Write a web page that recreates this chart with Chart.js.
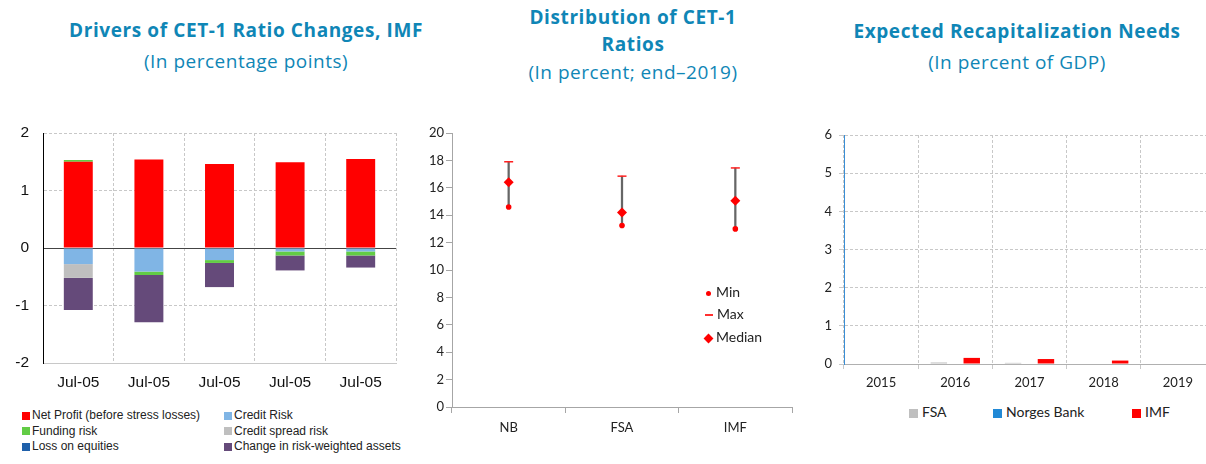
<!DOCTYPE html>
<html>
<head>
<meta charset="utf-8">
<script src="https://cdn.jsdelivr.net/npm/chart.js@4.4.0/dist/chart.umd.min.js"></script>
<style>
  body { margin:0; background:#fff; width:1206px; height:464px; position:relative; overflow:hidden; }
  .box { position:absolute; }
  .ttl { position:absolute; text-align:center; color:#0f86b6; font-family:"Open Sans",sans-serif; white-space:nowrap; }
  .ttl b { font-weight:700; font-size:19px; letter-spacing:0.6px; display:block; line-height:27px; }
  .ttl span { font-weight:400; font-size:19px; letter-spacing:0.5px; display:block; line-height:29px; }
  .ttl.gap span { margin-top:3px; }
  .leg { position:absolute; font-size:12px; color:#222; white-space:nowrap; }
  .leg i { display:inline-block; vertical-align:middle; }
</style>
</head>
<body>

<div class="ttl gap" style="left:46px;width:400px;top:17px;"><b>Drivers of CET-1 Ratio Changes, IMF</b><span>(In percentage points)</span></div>
<div class="ttl" style="left:473px;width:320px;top:4px;"><b>Distribution of CET-1</b><b>Ratios</b><span>(In percent; end–2019)</span></div>
<div class="ttl gap" style="left:837px;width:360px;top:18px;"><b>Expected Recapitalization Needs</b><span>(In percent of GDP)</span></div>

<div class="box" style="left:0;top:120px;width:410px;height:280px;"><canvas id="drivers" width="410" height="280"></canvas></div>
<div class="box" style="left:410px;top:120px;width:390px;height:344px;"><canvas id="dist" width="390" height="344"></canvas></div>
<div class="box" style="left:800px;top:120px;width:406px;height:280px;overflow:hidden;"><canvas id="recap" width="420" height="280"></canvas></div>

<div id="legDrivers"></div>
<div id="legDist"></div>
<div id="legRecap"></div>

<script>
// panel 1: drivers of CET-1 ratio changes
var driverLabels = ["Jul-05", "Jul-05", "Jul-05", "Jul-05", "Jul-05"];
var netProfit = [1.50, 1.54, 1.46, 1.49, 1.55];
var creditRisk = [-0.28, -0.41, -0.21, -0.06, -0.06];
var fundingRisk = [0.03, -0.06, -0.05, -0.07, -0.07];
var creditSpreadRisk = [-0.24, 0, 0, 0, 0];
var lossOnEquities = [0, 0, 0, 0, 0];
var rwaChange = [-0.56, -0.82, -0.42, -0.26, -0.21];
var driverTicks = [-2, -1, 0, 1, 2];

// panel 2: distribution of CET-1 ratios
var ratioGroups = ["NB", "FSA", "IMF"];
var ratioMin = [14.6, 13.25, 13.0];
var ratioMax = [17.9, 16.85, 17.45];
var ratioMedian = [16.4, 14.2, 15.05];

// panel 3: recapitalization needs
var years = ["2015", "2016", "2017", "2018", "2019"];
var fsaNeeds = [0, 0.04, 0.03, 0, 0];
var nbNeeds = [0, 0, 0, 0, 0];
var imfNeeds = [0, 0.16, 0.13, 0.09, 0];

var arial = "'Liberation Sans', Arial, sans-serif";
var lato = "Lato, sans-serif";

var driverSets = [
    {label: "Net Profit (before stress losses)", data: netProfit, backgroundColor: "#ff0000"},
    {label: "Credit Risk", data: creditRisk, backgroundColor: "#80b5e5"},
    {label: "Funding risk", data: fundingRisk, backgroundColor: "#62cc45"},
    {label: "Credit spread risk", data: creditSpreadRisk, backgroundColor: "#bfbfbf"},
    {label: "Loss on equities", data: lossOnEquities, backgroundColor: "#1f60aa"},
    {label: "Change in risk-weighted assets", data: rwaChange, backgroundColor: "#654a7a"}
];

new Chart(document.getElementById("drivers"), {
    type: "bar",
    data: {
        labels: driverLabels,
        datasets: driverSets.map(function(d){
            return Object.assign({categoryPercentage: 1, barPercentage: 0.41, borderWidth: 0}, d);
        })
    },
    options: {
        responsive: false,
        animation: false,
        layout: {padding: {top: 13, right: 14, left: 0, bottom: 0}},
        plugins: {legend: {display: false}, tooltip: {enabled: false}},
        scales: {
            x: {
                stacked: true,
                afterFit: function(s){ s.height = 37; },
                grid: {color: "#c8c8c8", drawTicks: false, offset: true},
                border: {color: "#c8c8c8", dash: [3, 2]},
                ticks: {color: "#111", padding: 10, font: {family: arial, size: 15.5}}
            },
            y: {
                stacked: true,
                min: -2, max: 2,
                // label padding would otherwise push the plot top down
                afterFit: function(s){ s.width = 43; s.paddingTop = 0; s.paddingBottom = 0; },
                afterBuildTicks: function(s){ s.ticks = driverTicks.map(function(v){ return {value: v}; }); },
                grid: {
                    color: function(c){ return c.tick && c.tick.value === 0 ? "#444" : "#c8c8c8"; },
                    drawTicks: false
                },
                border: {
                    color: "#000",
                    dash: function(c){ return c.tick && c.tick.value === 0 ? [] : [3, 2]; }
                },
                ticks: {color: "#111", padding: 14, font: {family: arial, size: 15.5}}
            }
        }
    }
});

// panel 2
new Chart(document.getElementById("dist"), {
    type: "bar",
    data: {
        labels: ratioGroups,
        datasets: [
            {
                type: "bar", label: "range",
                data: ratioGroups.map(function(g, i){ return [ratioMin[i], ratioMax[i]]; }),
                backgroundColor: "#666666", barThickness: 1.6, borderWidth: 0, order: 4
            },
            {type: "line", label: "Min", data: ratioMin, showLine: false, pointStyle: "circle",
             pointRadius: 2.8, pointBackgroundColor: "#ff0000", pointBorderWidth: 0, order: 1},
            {type: "line", label: "Max", data: ratioMax, showLine: false, pointStyle: "line",
             pointRadius: 4.5, pointBorderColor: "#ff2020", pointBorderWidth: 1.5, order: 2},
            {type: "line", label: "Median", data: ratioMedian, showLine: false, pointStyle: "rectRot",
             pointRadius: 5, pointBackgroundColor: "#ff0000", pointBorderColor: "#ff0000", pointBorderWidth: 0, order: 0}
        ]
    },
    options: {
        responsive: false,
        animation: false,
        layout: {padding: {top: 13, right: 8, left: 0, bottom: 0}},
        plugins: {legend: {display: false}, tooltip: {enabled: false}},
        scales: {
            x: {
                offset: true,
                afterFit: function(s){ s.height = 57; },
                grid: {drawOnChartArea: false, drawTicks: true, tickLength: 6, color: "#a6a6a6", offset: true},
                border: {color: "#a6a6a6"},
                ticks: {color: "#222", padding: 7, font: {family: lato, size: 13}}
            },
            y: {
                min: 0, max: 20,
                afterFit: function(s){ s.width = 42; },
                grid: {drawOnChartArea: false, drawTicks: true, tickLength: 6, color: "#a6a6a6"},
                border: {color: "#a6a6a6"},
                ticks: {stepSize: 2, color: "#222", padding: 2, font: {family: lato, size: 13}}
            }
        }
    }
});

// panel 3
var recapSets = [
    {label: "FSA", data: fsaNeeds, backgroundColor: "#bfbfbf"},
    {label: "Norges Bank", data: nbNeeds, backgroundColor: "#2189d6"},
    {label: "IMF", data: imfNeeds, backgroundColor: "#ff0000"}
];

new Chart(document.getElementById("recap"), {
    type: "bar",
    data: {
        labels: years,
        datasets: recapSets.map(function(d){
            return Object.assign({categoryPercentage: 0.665, barPercentage: 1, borderWidth: 0}, d);
        })
    },
    options: {
        responsive: false,
        animation: false,
        layout: {padding: {top: 15, right: 5, left: 0, bottom: 0}},
        plugins: {legend: {display: false}, tooltip: {enabled: false}},
        scales: {
            x: {
                afterFit: function(s){ s.height = 36; },
                grid: {color: "#c8c8c8", drawTicks: true, tickLength: 5, offset: true},
                border: {color: "#b0b0b0", dash: [3, 2]},
                ticks: {color: "#222", padding: 6, font: {family: lato, size: 13}}
            },
            y: {
                min: 0, max: 6,
                afterFit: function(s){ s.width = 44; },
                grid: {color: "#c8c8c8", drawTicks: true, tickLength: 5},
                border: {color: "#3a8fd6", dash: [3, 2]},
                ticks: {stepSize: 1, color: "#222", padding: 7, font: {family: lato, size: 13}}
            }
        }
    }
});

// legends as html text
function sq(color, w){
    return '<i style="width:' + w + 'px;height:' + w + 'px;background:' + color + ';margin-right:2px;"></i>';
}

var legCols = [22, 224];
var legRows = [415, 430.5, 446];
var h1 = "";
driverSets.forEach(function(d, i){
    var x = legCols[i % 2], y = legRows[Math.floor(i / 2)];
    h1 += '<div class="leg" style="font-family:' + arial + ';left:' + x + 'px;top:' + (y - 8) + 'px;line-height:16px;">' +
          sq(d.backgroundColor, 8) + d.label + '</div>';
});
document.getElementById("legDrivers").innerHTML = h1;

var distMarks = [
    '<i style="width:5px;height:5px;border-radius:50%;background:#ff0000;margin:0 5px 0 2px;"></i>',
    '<i style="width:8px;height:2px;background:#ff3030;margin:0 4px 0 1px;"></i>',
    '<i style="width:7px;height:7px;background:#ff0000;transform:rotate(45deg);margin:0 4px 0 1px;"></i>'
];
var distNames = ["Min", "Max", "Median"];
var distRows = [292, 314, 337];
var h2 = "";
distNames.forEach(function(n, i){
    h2 += '<div class="leg" style="font-family:' + lato + ';font-size:14px;left:704px;top:' + (distRows[i] - 9) + 'px;line-height:18px;">' +
          distMarks[i] + n + '</div>';
});
document.getElementById("legDist").innerHTML = h2;

var recapX = [909, 993, 1132];
var h3 = "";
recapSets.forEach(function(d, i){
    h3 += '<div class="leg" style="font-family:' + lato + ';font-size:14px;left:' + recapX[i] + 'px;top:403px;line-height:18px;">' +
          sq(d.backgroundColor, 9) + '<span style="margin-left:2px">' + d.label + '</span></div>';
});
document.getElementById("legRecap").innerHTML = h3;
</script>
</body>
</html>
